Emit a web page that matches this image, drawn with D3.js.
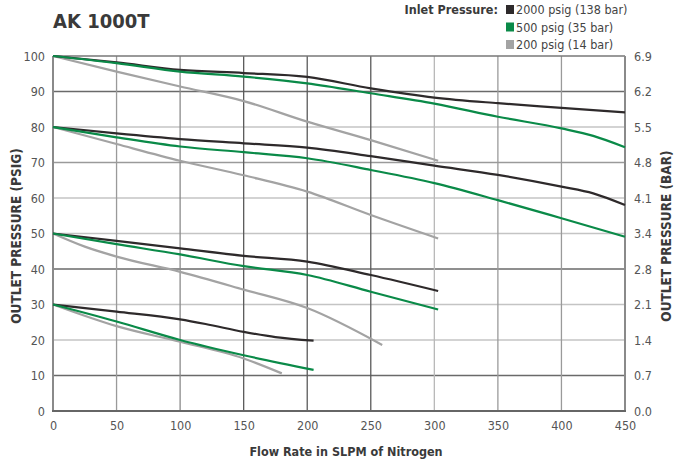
<!DOCTYPE html>
<html lang="en">
<head>
<meta charset="UTF-8">
<title>AK 1000T</title>
<script src="https://cdn.jsdelivr.net/npm/d3@7"></script>
<style>
  body { margin: 0; background: #fff; }
  text { font-family: "Liberation Sans Narrow", "DejaVu Sans Condensed", "Roboto", sans-serif; }
</style>
</head>
<body>
<script>
// flow (SLPM) vs outlet pressure (psig), one curve per inlet / set pressure
var black100 = [[0,100],[50,98.2],[100,96.1],[150,95.2],[200,94.1],[250,90.9],[300,88.3],[350,86.7],[400,85.4],[450,84.1]];
var green100 = [[0,100],[50,98.0],[100,95.6],[150,94.2],[200,92.3],[250,89.5],[300,86.6],[350,82.9],[400,79.6],[425,77.5],[450,74.3]];
var grey100  = [[0,100],[50,95.6],[100,91.4],[150,87.3],[200,81.5],[250,76.3],[303,70.5]];

var black80 = [[0,80],[50,78.2],[100,76.6],[150,75.4],[200,74.2],[250,71.8],[300,69.1],[350,66.5],[400,63.2],[425,61.3],[450,58.0]];
var green80 = [[0,80],[50,77.1],[100,74.5],[150,72.9],[200,71.2],[250,67.9],[300,64.2],[350,59.4],[400,54.3],[450,49.1]];
var grey80  = [[0,80],[50,75.2],[100,70.5],[150,66.4],[200,61.8],[250,55.2],[303,48.6]];

var black50 = [[0,50],[50,47.9],[100,45.8],[150,43.7],[200,42.1],[250,38.3],[303,33.8]];
var green50 = [[0,50],[50,47.0],[100,44.1],[150,40.8],[200,38.3],[250,33.6],[303,28.6]];
var grey50  = [[0,50],[25,46.3],[50,43.5],[100,39.2],[150,34.2],[200,29.0],[259,18.6]];

var black30 = [[0,30],[50,28.0],[100,25.8],[120,24.5],[150,22.3],[175,20.8],[205,19.8]];
var green30 = [[0,30],[50,25.2],[100,20.0],[150,15.7],[205,11.6]];
var grey30  = [[0,30],[50,23.9],[100,19.5],[150,14.8],[180,10.6]];

var xTicks = [0,50,100,150,200,250,300,350,400,450];
var yTicks = [0,10,20,30,40,50,60,70,80,90,100];
var barTicks = ["0.0","0.7","1.4","2.1","2.8","3.4","4.1","4.8","5.5","6.2","6.9"];
var legendLabels = ["2000 psig (138 bar)","500 psig (35 bar)","200 psig (14 bar)"];
var colors = ["#2e2a2b","#0a8a48","#a3a3a3"];

var width = 686, height = 463;
var svg = d3.select("body").append("svg")
    .attr("width", width)
    .attr("height", height);

var x = d3.scaleLinear().domain([0,450]).range([53,625]);
var y = d3.scaleLinear().domain([0,100]).range([411,56]);

// grid shades
var hShade = {10:"#6a6a6a",20:"#c4c4c4",30:"#c4c4c4",40:"#6a6a6a",50:"#c4c4c4",60:"#c4c4c4",70:"#9a9a9a",80:"#c4c4c4",90:"#6a6a6a"};
var vShade = {50:"#9a9a9a",100:"#8a8a8a",150:"#5a5a5a",200:"#5a5a5a",250:"#5a5a5a",300:"#b8b8b8",350:"#9a9a9a",400:"#9a9a9a"};

svg.selectAll(".hgrid")
    .data(yTicks.filter(function(d){ return d > 0 && d < 100; }))
    .enter().append("line")
    .attr("x1", x(0)).attr("x2", x(450))
    .attr("y1", function(d){ return y(d); })
    .attr("y2", function(d){ return y(d); })
    .attr("stroke", function(d){ return hShade[d]; })
    .attr("stroke-width", 1.3);

svg.selectAll(".vgrid")
    .data(xTicks.filter(function(d){ return d > 0 && d < 450; }))
    .enter().append("line")
    .attr("y1", y(0)).attr("y2", y(100))
    .attr("x1", function(d){ return x(d); })
    .attr("x2", function(d){ return x(d); })
    .attr("stroke", function(d){ return vShade[d]; })
    .attr("stroke-width", 1.3);

// frame
svg.append("line").attr("x1", x(0)).attr("x2", x(450)).attr("y1", y(100)).attr("y2", y(100))
    .attr("stroke", "#777").attr("stroke-width", 1.3);
svg.append("line").attr("x1", x(0)).attr("x2", x(0)).attr("y1", y(100)).attr("y2", y(0))
    .attr("stroke", "#8a8a8a").attr("stroke-width", 2);
svg.append("line").attr("x1", x(450)).attr("x2", x(450)).attr("y1", y(100)).attr("y2", y(0))
    .attr("stroke", "#8a8a8a").attr("stroke-width", 2);
svg.append("line").attr("x1", x(0) - 1).attr("x2", x(450) + 1).attr("y1", y(0)).attr("y2", y(0))
    .attr("stroke", "#666").attr("stroke-width", 2);

// axes (labels only, lines drawn above)
var xAxis = svg.append("g").attr("transform", "translate(0," + y(0) + ")")
    .call(d3.axisBottom(x).tickValues(xTicks).tickSize(0).tickPadding(10));
var yAxis = svg.append("g").attr("transform", "translate(" + x(0) + ",0)")
    .call(d3.axisLeft(y).tickValues(yTicks).tickSize(0).tickPadding(8));
var yAxisR = svg.append("g").attr("transform", "translate(" + x(450) + ",0)")
    .call(d3.axisRight(y).tickValues(yTicks).tickSize(0).tickPadding(9)
        .tickFormat(function(d, i){ return barTicks[i]; }));
[xAxis, yAxis, yAxisR].forEach(function(g){
    g.select(".domain").remove();
    g.selectAll("text").attr("font-size", 12.5).attr("fill", "#555")
        .style("font-family", '"Liberation Sans Narrow", "DejaVu Sans Condensed", sans-serif');
});

// curves
var line = d3.line()
    .x(function(d){ return x(d[0]); })
    .y(function(d){ return y(d[1]); })
    .curve(d3.curveMonotoneX);

var curves = [
    {pts: grey100, c: 2}, {pts: grey80, c: 2}, {pts: grey50, c: 2}, {pts: grey30, c: 2},
    {pts: black100, c: 0}, {pts: black80, c: 0}, {pts: black50, c: 0}, {pts: black30, c: 0},
    {pts: green100, c: 1}, {pts: green80, c: 1}, {pts: green50, c: 1}, {pts: green30, c: 1}
];
svg.selectAll(".curve")
    .data(curves)
    .enter().append("path")
    .attr("d", function(d){ return line(d.pts); })
    .attr("fill", "none")
    .attr("stroke", function(d){ return colors[d.c]; })
    .attr("stroke-width", 2.2);

// title
svg.append("text").attr("x", 53).attr("y", 28)
    .attr("font-size", 20).attr("font-weight", "bold").attr("fill", "#3a3a3a")
    .text("AK 1000T");

// legend
svg.append("text").attr("x", 498).attr("y", 14)
    .attr("text-anchor", "end").attr("font-size", 12.5).attr("font-weight", "bold").attr("fill", "#3a3a3a")
    .text("Inlet Pressure:");
var leg = svg.selectAll(".leg").data(legendLabels).enter().append("g")
    .attr("transform", function(d, i){ return "translate(506," + (5 + i * 17.5) + ")"; });
leg.append("rect").attr("width", 8).attr("height", 9)
    .attr("fill", function(d, i){ return colors[i]; });
leg.append("text").attr("x", 10).attr("y", 9)
    .attr("font-size", 12.5).attr("fill", "#444")
    .text(function(d){ return d; });

// axis titles
svg.append("text")
    .attr("transform", "translate(21,236) rotate(-90)")
    .attr("text-anchor", "middle").attr("font-size", 13.5).attr("font-weight", "bold").attr("fill", "#3a3a3a")
    .text("OUTLET PRESSURE (PSIG)");
svg.append("text")
    .attr("transform", "translate(671,236) rotate(-90)")
    .attr("text-anchor", "middle").attr("font-size", 13.5).attr("font-weight", "bold").attr("fill", "#3a3a3a")
    .text("OUTLET PRESSURE (BAR)");
svg.append("text").attr("x", 346).attr("y", 456)
    .attr("text-anchor", "middle").attr("font-size", 12.5).attr("font-weight", "bold").attr("fill", "#3a3a3a")
    .text("Flow Rate in SLPM of Nitrogen");
</script>
</body>
</html>
